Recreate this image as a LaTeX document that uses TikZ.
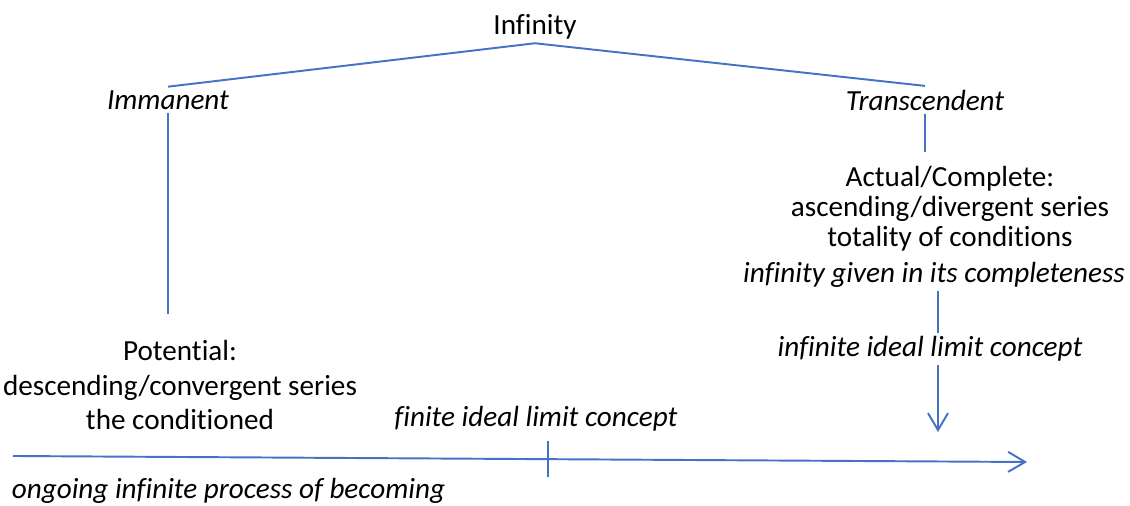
\documentclass[tikz,border=0pt]{standalone}
\usepackage{fontspec}
\setmainfont{Carlito}[Ligatures=NoCommon]
\usepackage{tikz}
\usetikzlibrary{arrows.meta,positioning,calc}
\definecolor{LineBlue}{RGB}{68,114,196}

\begin{document}
\begin{tikzpicture}[x=0.02cm, y=-0.02cm, font=\fontsize{16.6}{18}\selectfont,
    link/.style={draw=LineBlue, line width=1.1pt},
    tip/.style={-{Straight Barb[length=3.4mm, width=4mm, line width=1.1pt]}},
    label/.style={inner sep=2pt},
    emph/.style={label, font=\fontsize{16.6}{18}\selectfont\itshape}]
  \useasboundingbox (0,0) rectangle (1130,506);
  \node[label] (inf) at (535,27) {Infinity};
  \node[emph] (imm) at (168,100) {Immanent};
  \node[emph] (trans) at (925,100) {Transcendent};
  \node[label, align=center, font=\fontsize{16.6}{19.4}\selectfont] (pot) at (180,385) {Potential:\\descending/convergent series\\the conditioned};
  \node[label, align=center, font=\fontsize{16.6}{17.2}\selectfont] (act) at (950,209) {Actual/Complete:\\ascending/divergent series\\totality of conditions};
  \node[emph] (given) at (934,275) {infinity given in its completeness};
  \node[emph] (ideal) at (930,349) {infinite ideal limit concept};
  \node[emph] (fin) at (536,419) {finite ideal limit concept};
  \node[emph, anchor=west] (proc) at (8,491) {ongoing infinite process of becoming};
  \coordinate (start) at (13,456);
  \coordinate (end) at (1027,462);
  \coordinate (tick) at (548,459);
  \coordinate (hit) at (938,432);
  \draw[link] (imm.north) -- (inf.south) -- (trans.north);
  \draw[link, shorten >=0.45cm] (imm.south) -- (imm.south |- pot.north);
  \draw[link, shorten >=0.2cm] (trans.south) -- (trans.south |- act.north);
  \draw[link] (hit |- given.south) -- (hit |- ideal.north);
  \draw[link, tip] (hit |- ideal.south) -- (hit);
  \draw[link, tip] (start) -- (end);
  \draw[link] (tick) ++(0,-18) -- ++(0,36);
\end{tikzpicture}
\end{document}
